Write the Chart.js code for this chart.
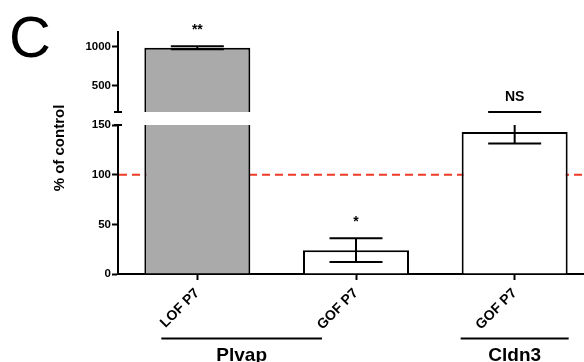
<!DOCTYPE html>
<html>
<head>
<meta charset="utf-8">
<script src="https://cdn.jsdelivr.net/npm/chart.js@4.4.0/dist/chart.umd.min.js"></script>
<style>
  html, body { margin: 0; padding: 0; background: #fff; overflow: hidden; }
  #wrap { position: relative; width: 584px; height: 362px; overflow: hidden; }
  canvas { position: absolute; left: 0; top: 0; }
</style>
</head>
<body>
<div id="wrap">
  <canvas id="lowerChart" width="600" height="362"></canvas>
  <canvas id="upperChart" width="600" height="362"></canvas>
</div>
<script>
// data
const categories = ['LOF P7', 'GOF P7', 'GOF P7'];
const genes = ['Plvap', 'Cldn3'];
const geneFirst = [0, 2];   // first category of each gene
const geneLast = [1, 2];    // last category of each gene
const meanValues = [987, 24, 143];
const errorValues = [20, 12, 11.5];
const sigLabels = ['**', '*', 'NS'];
const barColors = ['#aaaaaa', '#ffffff', '#ffffff'];
const lowerTicks = [0, 50, 100, 150];
const upperTicks = [500, 1000];
const lowerRange = [0, 150];
const upperRange = [160, 1190];
const controlLevel = 100;

const FONT = "'Liberation Sans', Arial, Helvetica, sans-serif";
Chart.defaults.font.family = FONT;
Chart.defaults.color = '#000';

// error bars, clipped to the segment they belong to
const errorBars = {
  id: 'errorBars',
  afterDatasetsDraw(chart) {
    const { ctx, chartArea: a, scales } = chart;
    const meta = chart.getDatasetMeta(0);
    ctx.save();
    ctx.beginPath();
    ctx.rect(a.left, a.top, a.right - a.left, a.bottom - a.top);
    ctx.clip();
    ctx.strokeStyle = '#000';
    ctx.lineWidth = 2;
    meta.data.forEach((bar, i) => {
      const x = bar.x, half = bar.width / 4;
      const hi = scales.y.getPixelForValue(meanValues[i] + errorValues[i]);
      const lo = scales.y.getPixelForValue(meanValues[i] - errorValues[i]);
      ctx.beginPath();
      ctx.moveTo(x, hi); ctx.lineTo(x, lo);
      ctx.moveTo(x - half, hi); ctx.lineTo(x + half, hi);
      ctx.moveTo(x - half, lo); ctx.lineTo(x + half, lo);
      ctx.stroke();
    });
    ctx.restore();
  }
};

// significance marks above the bars shown in this segment
const sigMarks = {
  id: 'sigMarks',
  afterDraw(chart) {
    const { ctx, chartArea: a, scales } = chart;
    const meta = chart.getDatasetMeta(0);
    const min = scales.y.min, max = scales.y.max;
    ctx.save();
    ctx.fillStyle = '#000';
    ctx.strokeStyle = '#000';
    ctx.lineWidth = 2;
    ctx.font = 'bold 14px ' + FONT;
    ctx.textAlign = 'center';
    ctx.textBaseline = 'middle';
    meta.data.forEach((bar, i) => {
      if (meanValues[i] < min || meanValues[i] > max) return;
      const top = Math.max(scales.y.getPixelForValue(meanValues[i] + errorValues[i]), a.top);
      if (sigLabels[i] === 'NS') {
        ctx.beginPath();
        ctx.moveTo(bar.x - bar.width / 4, top - 13);
        ctx.lineTo(bar.x + bar.width / 4, top - 13);
        ctx.stroke();
        ctx.fillText(sigLabels[i], bar.x, top - 28);
      } else {
        ctx.fillText(sigLabels[i], bar.x, top - 16);
      }
    });
    ctx.restore();
  }
};

const lowerDecor = {
  id: 'lowerDecor',
  beforeDatasetsDraw(chart) {
    const { ctx, chartArea: a, scales: { y } } = chart;
    const yy = y.getPixelForValue(controlLevel);
    ctx.save();
    ctx.strokeStyle = '#ee3a26';
    ctx.lineWidth = 2;
    ctx.setLineDash([8, 5]);
    ctx.beginPath();
    ctx.moveTo(a.left + 1, yy);
    ctx.lineTo(a.right, yy);
    ctx.stroke();
    ctx.restore();
  },
  afterDraw(chart) {
    const { ctx, chartArea: a, scales: { x } } = chart;
    ctx.save();
    ctx.fillStyle = '#000';
    ctx.strokeStyle = '#000';
    ctx.lineWidth = 2;

    // cap at top of the lower segment
    ctx.beginPath();
    ctx.moveTo(a.left - 4, a.top); ctx.lineTo(a.left + 4, a.top);
    ctx.stroke();

    // gene brackets below the x labels
    const spans = [[-36, -34], [-54, 54]];
    ctx.font = 'bold 19px ' + FONT;
    ctx.textAlign = 'center';
    ctx.textBaseline = 'alphabetic';
    genes.forEach((g, k) => {
      const l = x.getPixelForValue(geneFirst[k]) + spans[k][0];
      const r = x.getPixelForValue(geneLast[k]) + spans[k][1];
      ctx.beginPath();
      ctx.moveTo(l, 338.5); ctx.lineTo(r, 338.5);
      ctx.stroke();
      ctx.fillText(g, (l + r) / 2, 361);
    });

    // axis title
    ctx.save();
    ctx.translate(60, 148);
    ctx.rotate(-Math.PI / 2);
    ctx.font = 'bold 15px ' + FONT;
    ctx.textAlign = 'center';
    ctx.textBaseline = 'middle';
    ctx.fillText('% of control', 0, 0);
    ctx.restore();

    // panel letter
    ctx.font = '58px ' + FONT;
    ctx.textAlign = 'left';
    ctx.textBaseline = 'alphabetic';
    ctx.fillText('C', 9, 57);
    ctx.restore();
  }
};

const upperDecor = {
  id: 'upperDecor',
  afterDraw(chart) {
    const { ctx, chartArea: a } = chart;
    ctx.save();
    ctx.strokeStyle = '#000';
    ctx.lineWidth = 2;
    ctx.beginPath();
    ctx.moveTo(a.left - 4, a.bottom); ctx.lineTo(a.left + 4, a.bottom);
    ctx.stroke();
    ctx.restore();
  }
};

function barDataset() {
  return {
    data: meanValues,
    backgroundColor: barColors,
    borderColor: '#000',
    borderWidth: 2,
    borderSkipped: 'start',
    barPercentage: 0.668,
    categoryPercentage: 1,
    clip: 0
  };
}

function yScale(range, tickList) {
  return {
    min: range[0],
    max: range[1],
    z: 1,
    border: { color: '#000', width: 2 },
    grid: { drawOnChartArea: false, color: '#000', tickLength: 6, tickWidth: 2 },
    ticks: {
      color: '#000',
      font: { size: 11.5, weight: 'bold' },
      padding: 1,
      callback: v => String(v)
    },
    afterBuildTicks: s => { s.ticks = tickList.map(v => ({ value: v })); },
    afterFit: s => { s.width = 118; }
  };
}

new Chart(document.getElementById('lowerChart'), {
  type: 'bar',
  data: { labels: categories, datasets: [barDataset()] },
  options: {
    responsive: false,
    animation: false,
    layout: { padding: { top: 125, right: 6, bottom: 0, left: 0 } },
    plugins: { legend: { display: false }, tooltip: { enabled: false } },
    scales: {
      x: {
        z: 1,
        border: { color: '#000', width: 2 },
        grid: { offset: false, drawOnChartArea: false, color: '#000', tickLength: 6, tickWidth: 2 },
        ticks: { color: '#000', font: { size: 14, weight: 'bold' }, minRotation: 45, maxRotation: 45, padding: 5 },
        afterFit: s => { s.height = 88; }
      },
      y: yScale(lowerRange, lowerTicks)
    }
  },
  plugins: [lowerDecor, errorBars, sigMarks]
});

new Chart(document.getElementById('upperChart'), {
  type: 'bar',
  data: { labels: categories, datasets: [barDataset()] },
  options: {
    responsive: false,
    animation: false,
    layout: { padding: { top: 32, right: 6, bottom: 250, left: 0 } },
    plugins: { legend: { display: false }, tooltip: { enabled: false } },
    scales: {
      x: { display: false },
      y: yScale(upperRange, upperTicks)
    }
  },
  plugins: [upperDecor, errorBars, sigMarks]
});
</script>
</body>
</html>
